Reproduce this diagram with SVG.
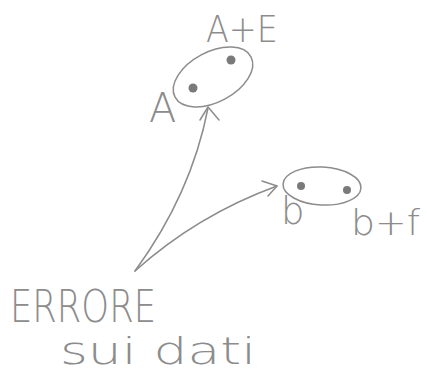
<svg xmlns="http://www.w3.org/2000/svg" width="428" height="375" viewBox="0 0 428 375">
<style>
.s{fill:none;stroke:#8c8c8c;stroke-width:1.5;stroke-linecap:round;stroke-linejoin:round}
.d{fill:#7a7a7a}
.t{font-family:"DejaVu Sans",sans-serif;fill:#8c8c8c;font-weight:300}
</style>
<rect width="428" height="375" fill="#ffffff"/>
<g id="set-A">
<ellipse class="s" cx="213" cy="77" rx="43" ry="25" transform="rotate(-28 213 77)"/>
<circle class="d" cx="231" cy="60" r="4.5"/>
<circle class="d" cx="193" cy="88" r="4.5"/>
<text class="t" x="206" y="42" font-size="37" textLength="72" lengthAdjust="spacingAndGlyphs">A+E</text>
<text class="t" x="149" y="122" font-size="40">A</text>
</g>
<g id="set-b">
<ellipse class="s" cx="322" cy="186" rx="39" ry="19" transform="rotate(3 322 186)"/>
<circle class="d" cx="301" cy="186" r="4"/>
<circle class="d" cx="347" cy="190" r="4"/>
<text class="t" x="281" y="224" font-size="37">b</text>
<text class="t" x="351" y="235" font-size="36" textLength="69" lengthAdjust="spacingAndGlyphs">b+f</text>
</g>
<g id="errore">
<text class="t" x="10" y="322" font-size="44" textLength="146" lengthAdjust="spacingAndGlyphs">ERRORE</text>
<text class="t" x="60" y="364" font-size="38" textLength="196" lengthAdjust="spacingAndGlyphs">sui dati</text>
</g>
<g id="connectors">
<path class="s" d="M135,271 C165,230 195,175 208,108"/>
<path class="s" d="M200,120 L208,107 L219,120"/>
<path class="s" d="M135,271 C175,235 225,205 277,186"/>
<path class="s" d="M262,181 L277,186 L268,196"/>
</g>
</svg>
